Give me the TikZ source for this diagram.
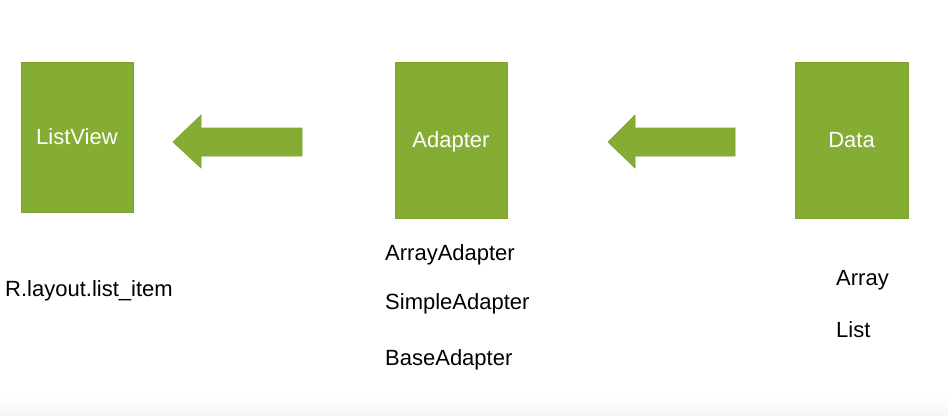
\documentclass[tikz,border=0pt]{standalone}
\usepackage{fontspec}
\setmainfont{Liberation Sans}
\definecolor{boxgreen}{HTML}{86AD33}
\definecolor{boxedge}{HTML}{7FA22F}
\definecolor{stripgray}{HTML}{F6F6F6}
\begin{document}
\begin{tikzpicture}[x=1bp,y=-1bp,
  greenbox/.style={rectangle, fill=boxgreen, draw=boxedge, line width=0.6bp, inner sep=0pt,
    text=white, font=\fontsize{22bp}{26bp}\selectfont, text height=15.8bp, text depth=0bp},
  label/.style={anchor=base west, inner sep=0pt, text=black, font=\fontsize{22bp}{26bp}\selectfont},
  blockarrow/.style={fill=boxgreen, draw=boxedge, line width=0.6bp}]
\useasboundingbox (0,0) rectangle (948,415);
\fill[white] (0,0) rectangle (948,415);
\shade[top color=white, bottom color=stripgray] (0,395) rectangle (948,415);
% boxes
\node[greenbox, minimum width=112bp, minimum height=150bp] (listview) at (77,137) {ListView};
\node[greenbox, minimum width=112bp, minimum height=156bp] (adapter) at (451,140) {Adapter};
\node[greenbox, minimum width=113bp, minimum height=156bp] (data) at (851.5,140) {Data};
% block arrows
\coordinate (t1) at (173,142);
\coordinate (t2) at (608,142);
\path[blockarrow] (t1) -- ++(28,-27) -- ++(0,13) -- ++(101,0) -- ++(0,28) -- ++(-101,0) -- ++(0,12) -- cycle;
\path[blockarrow] (t2) -- ++(27,-27) -- ++(0,13) -- ++(100,0) -- ++(0,28) -- ++(-100,0) -- ++(0,12) -- cycle;
% labels
\node[label] (layout) at (5,296) {R.layout.list\_item};
\node[label] (arrayadapter) at (385,260) {ArrayAdapter};
\node[label] (simpleadapter) at (385,309) {SimpleAdapter};
\node[label] (baseadapter) at (385,365) {BaseAdapter};
\node[label] (array) at (836,285) {Array};
\node[label] (list) at (836,337.5) {List};
\end{tikzpicture}
\end{document}
